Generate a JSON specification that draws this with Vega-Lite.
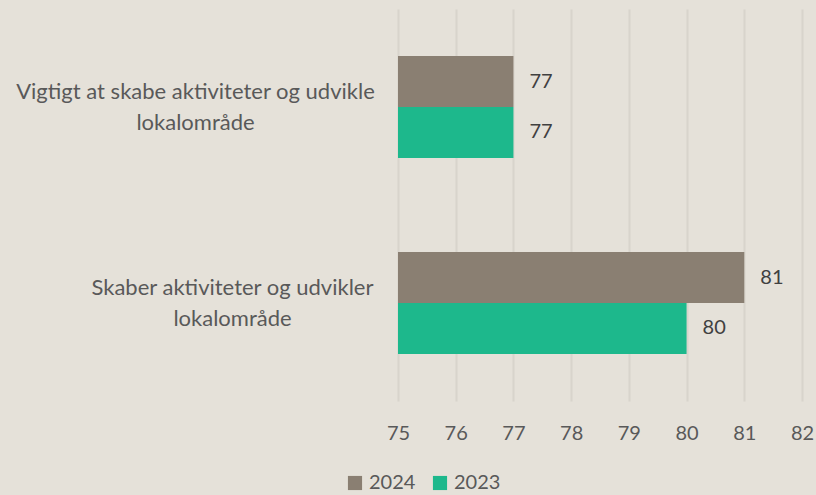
{
  "$schema": "https://vega.github.io/schema/vega-lite/v6.json",
  "width": 404,
  "height": 392,
  "autosize": {"type": "none"},
  "padding": {"left": 398, "top": 9, "right": 14, "bottom": 94},
  "background": "#E5E1D9",
  "config": {
    "view": {"stroke": null},
    "font": "Lato",
    "axis": {"labelFont": "Lato", "labelColor": "#595959"},
    "legend": {"labelFont": "Lato", "labelColor": "#595959"}
  },
  "data": {
    "values": [
      {"cat": "Vigtigt at skabe aktiviteter og udvikle lokalområde", "year": "2024", "value": 77},
      {"cat": "Vigtigt at skabe aktiviteter og udvikle lokalområde", "year": "2023", "value": 77},
      {"cat": "Skaber aktiviteter og udvikler lokalområde", "year": "2024", "value": 81},
      {"cat": "Skaber aktiviteter og udvikler lokalområde", "year": "2023", "value": 80}
    ]
  },
  "encoding": {
    "y": {
      "field": "cat",
      "type": "nominal",
      "sort": ["Vigtigt at skabe aktiviteter og udvikle lokalområde", "Skaber aktiviteter og udvikler lokalområde"],
      "scale": {"paddingInner": 0.48, "paddingOuter": 0.24},
      "axis": {
        "title": null,
        "domain": false,
        "ticks": false,
        "labelFontSize": 22,
        "labelAlign": "center",
        "labelPadding": 0,
        "labelLineHeight": 31,
        "labelOffset": -15,
        "labelLimit": 0,
        "labelExpr": "datum.value == 'Skaber aktiviteter og udvikler lokalområde' ? ['Skaber aktiviteter og udvikler', 'lokalområde'] : ['Vigtigt at skabe aktiviteter og udvikle', 'lokalområde']",
        "encoding": {
          "labels": {
            "dx": {"value": {"expr": "datum.value == 'Skaber aktiviteter og udvikler lokalområde' ? -166 : -203"}}
          }
        }
      }
    },
    "yOffset": {"field": "year", "type": "nominal", "sort": ["2024", "2023"]},
    "x": {
      "field": "value",
      "type": "quantitative",
      "scale": {"domain": [75, 82], "zero": false, "nice": false},
      "axis": {
        "title": null,
        "domain": false,
        "ticks": false,
        "values": [75, 76, 77, 78, 79, 80, 81, 82],
        "labelOverlap": false,
        "labelBound": false,
        "labelFlush": false,
        "grid": true,
        "gridColor": "#D8D4CC",
        "gridWidth": 2,
        "labelFontSize": 20,
        "labelPadding": 22
      }
    }
  },
  "layer": [
    {
      "mark": {"type": "bar"},
      "encoding": {
        "x2": {"datum": 75},
        "color": {
          "field": "year",
          "type": "nominal",
          "sort": ["2024", "2023"],
          "scale": {"domain": ["2024", "2023"], "range": ["#8A7F72", "#1DB88C"]},
          "legend": {
            "title": null,
            "orient": "none",
            "direction": "horizontal",
            "legendX": -53,
            "legendY": 464,
            "symbolType": "square",
            "symbolSize": 200,
            "symbolStrokeWidth": 0,
            "labelFontSize": 20,
            "columnPadding": 14,
            "labelOffset": 4
          }
        }
      }
    },
    {
      "mark": {"type": "text", "align": "left", "dx": 16, "fontSize": 20, "color": "#404040"},
      "encoding": {"text": {"field": "value", "type": "quantitative"}}
    }
  ]
}
